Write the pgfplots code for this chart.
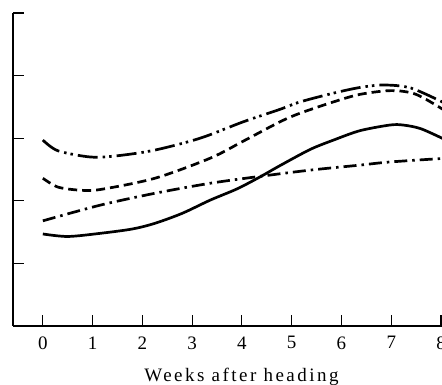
\documentclass[border=0pt]{standalone}
\usepackage{fontspec}
\setmainfont{Liberation Serif}
\usepackage{pgfplots}
\pgfplotsset{compat=1.18}
\begin{document}
\begin{tikzpicture}
\begin{axis}[
  at={(0,0)}, anchor=south west,
  scale only axis,
  width=433pt, height=313pt,
  xmin=-0.6, xmax=8.1,
  ymin=0, ymax=5,
  axis x line=bottom, axis y line=left,
  axis line style={-, line width=1.1pt},
  tick align=inside,
  major tick length=10.5pt,
  every tick/.style={line width=1.1pt, black},
  xtick={0,1,...,8},
  ytick={1,2,3,4,5},
  yticklabels={},
  tick label style={font=\fontsize{19}{21}\selectfont},
  /pgf/number format/assume math mode=true,
  xticklabel style={yshift=-7pt},
  xlabel={\addfontfeature{LetterSpace=13}Weeks after heading},
  xlabel style={font=\fontsize{19}{21}\selectfont, xshift=12pt, yshift=-12pt},
  clip=true,
]
% Solid line
\addplot[black, line width=2.7pt, smooth] coordinates {
  (0,1.47) (0.5,1.43) (1.15,1.48) (1.8,1.55) (2.25,1.64) (2.8,1.80)
  (3.36,2.01) (3.9,2.19) (4.36,2.38) (4.76,2.56) (5.37,2.82) (5.84,2.97)
  (6.37,3.12) (6.97,3.21) (7.24,3.21) (7.6,3.15) (8.1,2.97)
};
% Dashed line
\addplot[black, line width=2.7pt, smooth, dash pattern=on 9pt off 5pt] coordinates {
  (0,2.36) (0.3,2.22) (0.74,2.17) (1.15,2.18) (2.25,2.36) (3.36,2.68)
  (4.02,2.95) (4.76,3.26) (5.17,3.40) (5.84,3.58) (6.37,3.70) (7.0,3.76)
  (7.5,3.70) (8.1,3.43)
};
% Dash-dot line
\addplot[black, line width=2.7pt, smooth, dash pattern=on 13pt off 5pt on 2.5pt off 5pt] coordinates {
  (0,1.68) (1.15,1.93) (2.25,2.12) (3.36,2.28) (4.36,2.39) (5.37,2.49)
  (6.37,2.57) (6.97,2.62) (8.1,2.68)
};
% Dash-dot-dot line
\addplot[black, line width=2.7pt, smooth, dash pattern=on 20pt off 5pt on 2.5pt off 4pt on 2.5pt off 5pt] coordinates {
  (0,2.97) (0.3,2.80) (0.95,2.70) (1.5,2.72) (2.25,2.81) (3.16,3.00)
  (4.02,3.26) (4.76,3.46) (5.17,3.58) (5.84,3.72) (6.37,3.81) (6.85,3.85)
  (7.4,3.80) (8.1,3.55)
};
\end{axis}
\pgfresetboundingbox
\useasboundingbox (-13pt,-59pt) rectangle (429pt,326pt);
\end{tikzpicture}
\end{document}
